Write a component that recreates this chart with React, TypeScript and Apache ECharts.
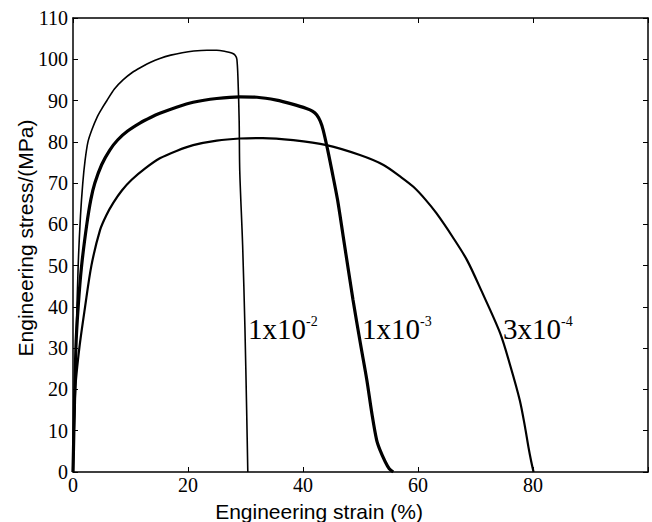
import React, { useEffect, useRef } from "react";
import * as echarts from "echarts";

// Strain rate 1x10^-2 s^-1
const strainA = [0, 0.5, 0.9, 1.3, 1.7, 2.1, 2.6, 3.3, 4.2, 5.0, 5.9, 7.2, 8.7, 10.3, 12, 13.5, 15.1, 17, 19, 21, 23.3, 25, 26.5, 27.6, 28.2, 28.5, 28.7, 28.9, 29.0, 29.5, 29.9, 30.2, 30.4];
const stressA = [0, 30, 50, 62, 70, 75.5, 80, 83, 86, 88, 90, 92.8, 95, 96.8, 98.2, 99.3, 100.2, 101, 101.6, 102, 102.2, 102.2, 101.9, 101.5, 101, 100, 95, 85, 73, 55, 35, 15, 0];

// Strain rate 1x10^-3 s^-1
const strainB = [0, 0.5, 0.9, 1.5, 2.4, 3.1, 3.8, 5.0, 6.4, 7.8, 9.5, 11.7, 13.5, 15.1, 18, 20.9, 25, 29, 32, 35.4, 38, 40.6, 41.7, 42.4, 43.0, 43.5, 44.3, 45.0, 46.0, 47.0, 48.7, 50.0, 51.1, 52.0, 52.8, 53.4, 54.3, 55.0, 55.7];
const stressB = [0, 30, 40, 50, 60, 66, 70, 74.5, 78, 80.5, 82.6, 84.6, 85.9, 86.9, 88.4, 89.6, 90.5, 90.9, 90.8, 90.1, 89.2, 88.1, 87.4, 86.5, 85, 82.9, 78, 73.2, 66, 57, 41.7, 31, 22.3, 14, 7.8, 5.3, 2.5, 0.8, 0];

// Strain rate 3x10^-4 s^-1
const strainC = [0, 0.4, 1.1, 2.1, 3.2, 4.7, 5.8, 7.0, 8.5, 10.2, 12.5, 15.1, 18, 20.9, 25, 29, 33, 38.3, 44.1, 49.9, 54, 57, 59.2, 61.3, 63.2, 66, 68.5, 71, 74.3, 76, 77.7, 78.6, 79.2, 79.7, 80.1];
const stressC = [0, 20, 30, 40, 50, 58.6, 62.2, 65.2, 68.2, 70.8, 73.5, 76, 77.8, 79.2, 80.3, 80.8, 80.9, 80.4, 79.2, 76.8, 74.4, 71.5, 69.1, 66, 62.7, 57, 51.4, 44, 33.6, 26, 17.4, 11, 6.1, 2.5, 0];

const rateBases = ["1x10", "1x10", "3x10"];
const rateExps = ["-2", "-3", "-4"];

const xLabelMax = 80;

const serif = "'Times New Roman', 'Liberation Serif', serif";
const sans = "Arial, 'Liberation Sans', sans-serif";

function pairs(xs: number[], ys: number[]) {
  return xs.map((x, i) => [x, ys[i]]);
}

export default function App() {
  const ref = useRef<HTMLDivElement>(null);
  useEffect(() => {
    const chart = echarts.init(ref.current!, null, { renderer: "svg" });
    const axisLine = { show: true, onZero: false, lineStyle: { color: "#000", width: 1.5 } };
    const axisTick = { show: true, inside: true, length: 5, lineStyle: { color: "#000", width: 1 } };
    const labelPos = [
      { x: 248, y: 329 },
      { x: 362, y: 329 },
      { x: 503, y: 329 },
    ];
    chart.setOption({
      animation: false,
      backgroundColor: "#fff",
      grid: { left: 73, top: 18, right: 4, bottom: 50, containLabel: false },
      xAxis: [
        {
          type: "value",
          position: "bottom",
          min: 0,
          max: 100,
          interval: 20,
          axisLine,
          axisTick,
          splitLine: { show: false },
          axisLabel: {
            formatter: (v: number) => (v <= xLabelMax ? String(v) : ""),
            fontFamily: serif,
            fontSize: 20,
            color: "#000",
            margin: 3,
          },
        },
        {
          type: "value",
          position: "top",
          min: 0,
          max: 100,
          interval: 20,
          axisLine,
          axisTick,
          splitLine: { show: false },
          axisLabel: { show: false },
        },
      ],
      yAxis: [
        {
          type: "value",
          position: "left",
          min: 0,
          max: 110,
          interval: 10,
          axisLine,
          axisTick,
          splitLine: { show: false },
          axisLabel: { fontFamily: serif, fontSize: 20, color: "#000", margin: 5 },
        },
        {
          type: "value",
          position: "right",
          min: 0,
          max: 110,
          interval: 10,
          axisLine,
          axisTick,
          splitLine: { show: false },
          axisLabel: { show: false },
        },
      ],
      series: [
        {
          name: "1x10-2",
          type: "line",
          data: pairs(strainA, stressA),
          showSymbol: false,
          smooth: 0.3,
          lineStyle: { color: "#000", width: 1.6 },
        },
        {
          name: "1x10-3",
          type: "line",
          data: pairs(strainB, stressB),
          showSymbol: false,
          smooth: 0.3,
          lineStyle: { color: "#000", width: 3.2 },
        },
        {
          name: "3x10-4",
          type: "line",
          data: pairs(strainC, stressC),
          showSymbol: false,
          smooth: 0.3,
          lineStyle: { color: "#000", width: 2.2 },
        },
      ],
      graphic: [
        {
          type: "text",
          x: 319,
          y: 511,
          style: {
            text: "Engineering strain (%)",
            font: `21px ${sans}`,
            fill: "#000",
            textAlign: "center",
            textVerticalAlign: "middle",
          },
        },
        {
          type: "text",
          x: 25,
          y: 238,
          rotation: Math.PI / 2,
          style: {
            text: "Engineering stress/(MPa)",
            font: `21px ${sans}`,
            fill: "#000",
            textAlign: "center",
            textVerticalAlign: "middle",
          },
        },
        ...rateBases.map((b, i) => ({
          type: "text",
          x: labelPos[i].x,
          y: labelPos[i].y,
          style: {
            text: `{b|${b}}{s|${rateExps[i]}}`,
            rich: {
              b: { fontFamily: serif, fontSize: 29, fill: "#000", lineHeight: 30 },
              s: { fontFamily: serif, fontSize: 14, fill: "#000", verticalAlign: "top", lineHeight: 30 },
            },
            textAlign: "left",
            textVerticalAlign: "middle",
          },
        })),
      ],
    });
    return () => chart.dispose();
  }, []);
  return <div ref={ref} style={{ position: "fixed", left: 0, top: 0, width: 652, height: 522 }} />;
}
